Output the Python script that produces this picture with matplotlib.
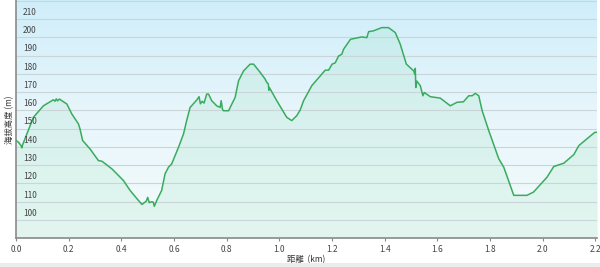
import numpy as np
import matplotlib
matplotlib.use("Agg")
import matplotlib.pyplot as plt
from matplotlib.colors import LinearSegmentedColormap
from matplotlib.patches import Rectangle

plt.rcParams["font.family"] = ["Noto Sans CJK JP", "DejaVu Sans"]

# distance (km) and elevation (m)
dist = [0.000, 0.010, 0.020, 0.022, 0.026, 0.066, 0.104, 0.142, 0.148, 0.153,
        0.158, 0.165, 0.180, 0.193, 0.212, 0.237, 0.243, 0.253, 0.281, 0.313,
        0.326, 0.364, 0.408, 0.433, 0.459, 0.478, 0.490, 0.495, 0.500, 0.506,
        0.515, 0.521, 0.525, 0.535, 0.553, 0.566, 0.579, 0.591, 0.617, 0.636,
        0.648, 0.661, 0.687, 0.695, 0.700, 0.707, 0.714, 0.724, 0.731, 0.743,
        0.762, 0.775, 0.779, 0.784, 0.788, 0.807, 0.832, 0.845, 0.864, 0.889,
        0.902, 0.927, 0.946, 0.952, 0.958, 0.960, 0.962, 0.990, 1.028, 1.047,
        1.066, 1.079, 1.092, 1.123, 1.174, 1.187, 1.200, 1.212, 1.225, 1.237,
        1.244, 1.270, 1.313, 1.332, 1.339, 1.357, 1.389, 1.414, 1.440, 1.459,
        1.482, 1.510, 1.514, 1.516, 1.518, 1.522, 1.535, 1.545, 1.550, 1.573,
        1.611, 1.649, 1.674, 1.699, 1.719, 1.732, 1.744, 1.757, 1.770, 1.795,
        1.833, 1.852, 1.890, 1.940, 1.965, 2.016, 2.042, 2.080, 2.118, 2.137,
        2.175, 2.198, 2.210]
elev = [143.5, 142.5, 140.5, 139.5, 141.5, 156.2, 162.5, 165.8, 165.0, 166.3,
        165.2, 166.2, 164.7, 163.5, 158.0, 152.6, 149.8, 143.5, 138.9, 132.5,
        132.2, 128.0, 121.6, 116.2, 111.7, 108.5, 109.8, 110.5, 112.4, 109.5,
        110.0, 109.8, 107.5, 110.9, 116.2, 125.3, 128.9, 130.7, 139.8, 147.1,
        154.4, 161.6, 165.8, 167.5, 163.6, 165.0, 164.0, 168.9, 168.9, 165.3,
        162.5, 161.6, 165.3, 160.5, 159.8, 159.8, 167.1, 176.2, 181.6, 185.3,
        185.3, 180.8, 177.1, 175.3, 174.5, 171.0, 172.5, 165.3, 156.2, 154.4,
        157.1, 160.2, 165.3, 173.5, 182.0, 182.0, 185.3, 186.0, 189.8, 190.7,
        193.5, 198.9, 200.2, 199.8, 203.1, 203.5, 205.3, 205.3, 202.6, 196.2,
        185.3, 181.6, 179.8, 183.0, 172.5, 176.0, 173.5, 168.0, 169.8, 167.5,
        166.7, 162.5, 164.4, 164.7, 168.0, 168.0, 169.3, 168.0, 159.8, 148.9,
        133.5, 128.9, 113.5, 113.5, 115.3, 123.4, 129.3, 131.1, 135.8, 140.7,
        145.3, 148.0, 148.0]

yticks = [100, 110, 120, 130, 140, 150, 160, 170, 180, 190, 200, 210]
xticks = [0.0, 0.2, 0.4, 0.6, 0.8, 1.0, 1.2, 1.4, 1.6, 1.8, 2.0, 2.2]

fig = plt.figure(figsize=(6, 2.67), dpi=100)
fig.patch.set_facecolor("white")
fig.patches.append(Rectangle((0, 0), 1, 0.016, transform=fig.transFigure,
                             facecolor="#ececec", edgecolor="none"))
ax = fig.add_axes([0.0267, 0.1075, 0.9683, 0.8925])

ymin, ymax = 90, 220.4
xmin, xmax = 0, 2.206
ax.set_xlim(xmin, xmax)
ax.set_ylim(ymin, ymax)

# background gradient: light blue on top fading to near white
bg = LinearSegmentedColormap.from_list("bg", ["#f4fbfc", "#e8f6fb", "#cfeefa"])
grad = np.linspace(0, 1, 256).reshape(-1, 1)
ax.imshow(grad, cmap=bg, aspect="auto", origin="lower",
          extent=[xmin, xmax, ymin, ymax], zorder=0)

ax.fill_between(dist, elev, ymin, color="#6fd697", alpha=0.13, lw=0, zorder=1)
ax.plot(dist, elev, color="#3aab5e", lw=1.1, zorder=3)

for y in yticks + [220]:
    ax.axhline(y, color="#c9d5d9", lw=0.8, zorder=2)
for y in yticks:
    ax.text(0.012, y + 1.2, str(y), fontsize=6, color="#444444",
            va="bottom", ha="left", zorder=4,
            transform=ax.get_yaxis_transform())

ax.set_yticks([])
ax.set_xticks(xticks)
ax.set_xticklabels([f"{x:.1f}" for x in xticks], fontsize=6, color="#444444")
ax.tick_params(axis="x", length=2.5, width=0.8, color="#888888", pad=2)

for side in ["top", "right"]:
    ax.spines[side].set_visible(False)
for side in ["left", "bottom"]:
    ax.spines[side].set_color("#8a8a8a")
    ax.spines[side].set_linewidth(1.2)

ax.set_xlabel("距離  (km)", fontsize=6, color="#333333", labelpad=1)
fig.text(0.016, 0.55, "海拔高度 (m)", rotation=90, fontsize=6,
         color="#333333", ha="center", va="center")

fig.savefig("out.png", dpi=100)
